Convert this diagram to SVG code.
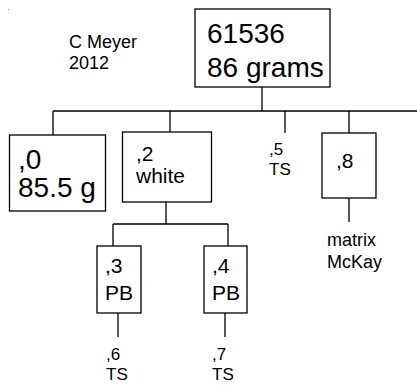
<svg xmlns="http://www.w3.org/2000/svg" width="417" height="385" viewBox="0 0 417 385">
<style>
.box{fill:#fff;stroke:#000;stroke-width:1.3}
.ln{stroke:#000;stroke-width:1.3;fill:none}
text{font-family:"Liberation Sans",Arial,sans-serif;fill:#000}
.big{font-size:28px}
.mid{font-size:21px}
.sm{font-size:18px}
.xs{font-size:17px}
</style>
<rect x="8" y="9" width="1" height="1" fill="#999"/>
<g id="connectors">
<path class="ln" d="M262,87V111M53,111H417M53,111V135M170,111V132M285,111V133M349,111V133"/>
<path class="ln" d="M166,202V224M113,224H228M113,224V246M228,224V246"/>
<path class="ln" d="M118,313V337M225,313V337M349,198V222"/>
</g>
<g id="author"><text class="sm" x="69" y="48">C Meyer</text><text class="sm" x="69" y="69">2012</text></g>
<g id="root"><rect class="box" x="195" y="9" width="135" height="78"/><text class="big" x="207" y="43">61536</text><text class="big" x="207" y="77">86 grams</text></g>
<g id="n0"><rect class="box" x="9.5" y="135" width="96" height="76"/><text class="big" x="18" y="169">,0</text><text class="big" x="18" y="197">85.5 g</text></g>
<g id="n2"><rect class="box" x="122.5" y="132" width="89" height="70"/><text class="mid" x="136" y="161">,2</text><text class="mid" x="136" y="183">white</text></g>
<g id="n5"><text class="xs" x="269" y="155">,5</text><text class="xs" x="269" y="175">TS</text></g>
<g id="n8"><rect class="box" x="322" y="133" width="54" height="65"/><text class="mid" x="336" y="168">,8</text></g>
<g id="n8label"><text class="sm" x="327" y="246">matrix</text><text class="sm" x="327" y="268">McKay</text></g>
<g id="n3"><rect class="box" x="97" y="246" width="44" height="67"/><text class="mid" x="105" y="273">,3</text><text class="mid" x="105" y="300">PB</text></g>
<g id="n4"><rect class="box" x="204" y="246" width="43" height="67"/><text class="mid" x="212" y="273">,4</text><text class="mid" x="212" y="300">PB</text></g>
<g id="n6"><text class="xs" x="106" y="360">,6</text><text class="xs" x="106" y="380">TS</text></g>
<g id="n7"><text class="xs" x="212" y="360">,7</text><text class="xs" x="212" y="380">TS</text></g>
</svg>
